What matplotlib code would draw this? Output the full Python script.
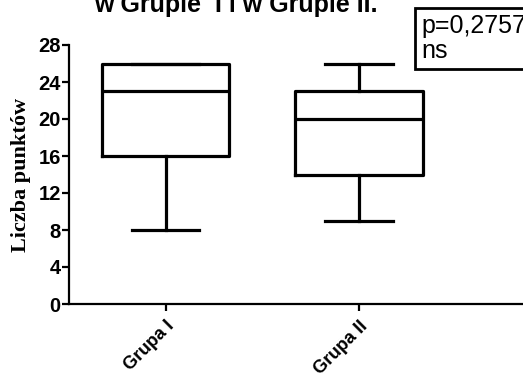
import matplotlib
matplotlib.use("Agg")
import matplotlib.pyplot as plt

# Box statistics
groups = ["Grupa I", "Grupa II"]
whislo = [8, 9]
q1 = [16, 14]
med = [23, 20]
q3 = [26, 23]
whishi = [26, 26]

yticks = [0, 4, 8, 12, 16, 20, 24, 28]
title = "w Grupie  I i w Grupie II."
stat_text = "p=0,2757\nns"
ylabel = "Liczba punktów"

fig = plt.figure(figsize=(5.23, 3.79), dpi=100)
ax = fig.add_axes([69 / 523, 1 - 304 / 379, 1 - 69 / 523, (304 - 45) / 379])

stats = []
for name, lo, a, m, b, hi in zip(groups, whislo, q1, med, q3, whishi):
    stats.append({"label": name, "whislo": lo, "q1": a, "med": m, "q3": b, "whishi": hi, "fliers": []})

lw = 2.3
ax.bxp(
    stats,
    positions=[1, 2],
    widths=0.66,
    showfliers=False,
    boxprops=dict(color="black", linewidth=lw),
    medianprops=dict(color="black", linewidth=lw),
    whiskerprops=dict(color="black", linewidth=lw),
    capprops=dict(color="black", linewidth=lw),
    capwidths=0.35,
)

ax.set_xlim(0.5, 2.85)
ax.set_ylim(0, 28)
ax.set_yticks(yticks)
ax.set_yticklabels([str(t) for t in yticks], fontfamily="Liberation Sans",
                   fontweight="bold", fontsize=14.5)
ax.set_xticks([1, 2])
ax.set_xticklabels(groups, rotation=45, ha="right", rotation_mode="anchor",
                   fontfamily="Liberation Sans", fontweight="bold", fontsize=13)

for side in ("top", "right"):
    ax.spines[side].set_visible(False)
for side in ("left", "bottom"):
    ax.spines[side].set_linewidth(1.6)
ax.tick_params(axis="y", width=1.6, length=5, pad=1)
ax.tick_params(axis="x", width=1.6, length=5, pad=5)

ax.set_ylabel(ylabel, fontfamily="Liberation Serif", fontweight="bold",
              fontsize=16, labelpad=5)

fig.text(236 / 523, 1 - 12 / 379, title, ha="center", va="baseline",
         fontfamily="Liberation Sans", fontweight="bold", fontsize=18)

fig.text(421 / 523, 1 - 14 / 379, stat_text, ha="left", va="top",
         fontfamily="Liberation Sans", fontsize=18, linespacing=1.05,
         bbox=dict(boxstyle="square,pad=0.25", facecolor="white",
                   edgecolor="black", linewidth=2))

fig.savefig("out.png", dpi=100)
